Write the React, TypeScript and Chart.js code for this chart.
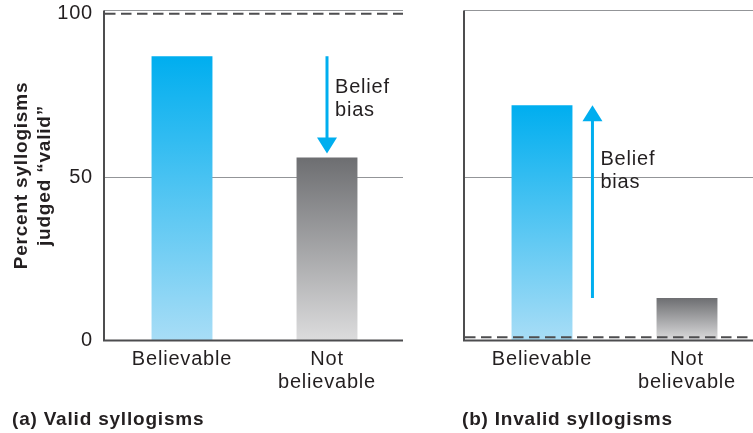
import React, { useEffect, useRef } from "react";
import { Chart, registerables } from "chart.js";

Chart.register(...registerables);

// ---------- data ----------
const CATEGORIES = [["Believable"], ["Not", "believable"]];
const VALID_VALUES = [87, 56]; // (a) valid syllogisms, % judged valid
const INVALID_VALUES = [72, 13]; // (b) invalid syllogisms, % judged valid
const Y_TICKS = [0, 50, 100];
const Y_MAX = 101;
const REFERENCE_LINE = 50;
const IDEAL_VALUES = [100, 1]; // dashed "correct answer" lines per panel
const PANEL_TITLES = ["(a) Valid syllogisms", "(b) Invalid syllogisms"];
const Y_TITLE = ["Percent syllogisms", "judged \u201cvalid\u201d"];
const ARROW_LABEL = ["Belief", "bias"];
const ARROW_LABEL_AT = [77.5, 55.5]; // value level of first label line

// ---------- styles ----------
const FONT = '"Liberation Sans", Arial, Helvetica, sans-serif';
const TEXT = "#231f20";
const AXIS = "#4d4d4f";
const LIGHT_LINE = "#939598";
const ARROW = "#00aeef";
const BLUE_TOP = "#00aeef";
const BLUE_BOTTOM = "#a8ddf6";
const GRAY_TOP = "#6d6e71";
const GRAY_BOTTOM = "#dcdcdd";

Chart.defaults.font.family = FONT;
Chart.defaults.color = TEXT;

const barFill = (ctx: any) => {
  const top = ctx.dataIndex === 0 ? BLUE_TOP : GRAY_TOP;
  const bottom = ctx.dataIndex === 0 ? BLUE_BOTTOM : GRAY_BOTTOM;
  const chart = ctx.chart;
  if (!chart.chartArea || ctx.type !== "data") return top;
  const y = chart.scales.y;
  const yTop = y.getPixelForValue(ctx.raw);
  const yBase = y.getPixelForValue(0);
  const g = chart.ctx.createLinearGradient(0, yTop, 0, yBase);
  g.addColorStop(0, top);
  g.addColorStop(1, bottom);
  return g;
};

const spacingPlugin = {
  id: "spacing",
  beforeDraw(chart: any) {
    (chart.ctx as any).letterSpacing = "0.8px";
  },
};

const decorPlugin = {
  id: "decor",
  beforeDatasetsDraw(chart: any) {
    const { ctx, chartArea: a, scales } = chart;
    const y = scales.y;
    const axisX = a.left - 5.5;
    const rightX = a.right + 3.5;
    ctx.save();
    ctx.strokeStyle = LIGHT_LINE;
    ctx.lineWidth = 1.2;
    ctx.beginPath();
    ctx.moveTo(axisX, a.top);
    ctx.lineTo(rightX, a.top);
    const y50 = Math.round(y.getPixelForValue(REFERENCE_LINE)) + 0.5;
    ctx.moveTo(axisX, y50);
    ctx.lineTo(rightX, y50);
    ctx.stroke();
    ctx.restore();
  },
  afterDatasetsDraw(chart: any, _args: any, opts: any) {
    const { ctx, chartArea: a, scales } = chart;
    const y = scales.y;
    const axisX = a.left - 5.5;
    const rightX = a.right + 3.5;
    const values: number[] = chart.data.datasets[0].data;
    const bars = chart.getDatasetMeta(0).data;
    ctx.save();
    // dashed ideal line
    ctx.strokeStyle = AXIS;
    ctx.lineWidth = 2;
    ctx.setLineDash([10.5, 5.5]);
    const yd = y.getPixelForValue(opts.ideal);
    ctx.beginPath();
    ctx.moveTo(axisX + 1, yd);
    ctx.lineTo(rightX, yd);
    ctx.stroke();
    ctx.setLineDash([]);
    // axes
    ctx.beginPath();
    ctx.moveTo(axisX, a.top);
    ctx.lineTo(axisX, a.bottom + 1);
    ctx.moveTo(axisX - 1, a.bottom);
    ctx.lineTo(rightX, a.bottom);
    ctx.stroke();

    // belief-bias arrow
    ctx.fillStyle = ARROW;
    ctx.strokeStyle = ARROW;
    ctx.lineWidth = 3;
    const headW = 10;
    const headH = 16;
    let ax: number;
    if (opts.direction === "down") {
      ax = bars[1].x;
      const yStart = y.getPixelForValue(values[0]);
      const tip = y.getPixelForValue(values[1]) - 4;
      ctx.beginPath();
      ctx.moveTo(ax, yStart);
      ctx.lineTo(ax, tip - headH + 1);
      ctx.stroke();
      ctx.beginPath();
      ctx.moveTo(ax - headW, tip - headH);
      ctx.lineTo(ax + headW, tip - headH);
      ctx.lineTo(ax, tip);
      ctx.closePath();
      ctx.fill();
    } else {
      ax = bars[0].x + bars[0].width / 2 + 20;
      const tip = y.getPixelForValue(values[0]);
      const yEnd = y.getPixelForValue(values[1]);
      ctx.beginPath();
      ctx.moveTo(ax, yEnd);
      ctx.lineTo(ax, tip + headH - 1);
      ctx.stroke();
      ctx.beginPath();
      ctx.moveTo(ax - headW, tip + headH);
      ctx.lineTo(ax + headW, tip + headH);
      ctx.lineTo(ax, tip);
      ctx.closePath();
      ctx.fill();
    }
    // label
    ctx.fillStyle = TEXT;
    ctx.font = `20px ${FONT}`;
    ctx.textAlign = "left";
    ctx.textBaseline = "middle";
    const ly = y.getPixelForValue(opts.labelAt);
    ARROW_LABEL.forEach((t, i) => ctx.fillText(t, ax + 8, ly + i * 23));
    ctx.restore();
  },
};

type PanelProps = {
  left: number;
  width: number;
  values: number[];
  title: string;
  ideal: number;
  showY: boolean;
  padLeft: number;
  padRight: number;
  yWidth: number;
  direction: "up" | "down";
  labelAt: number;
};

function Panel(p: PanelProps) {
  const ref = useRef<HTMLCanvasElement>(null);
  useEffect(() => {
    const chart = new Chart(ref.current as HTMLCanvasElement, {
      type: "bar",
      data: {
        labels: CATEGORIES as any,
        datasets: [
          {
            data: p.values,
            backgroundColor: barFill as any,
            borderWidth: 0,
            barPercentage: 0.42,
            categoryPercentage: 1,
          },
        ],
      },
      options: {
        responsive: false,
        animation: false,
        events: [],
        layout: { padding: { left: p.padLeft, right: p.padRight, top: 10.5, bottom: 1 } },
        scales: {
          x: {
            type: "category",
            grid: { display: false, drawTicks: false },
            border: { display: false },
            ticks: {
              font: { size: 20, lineHeight: 1.15 },
              color: TEXT,
              padding: 7,
              maxRotation: 0,
              autoSkip: false,
            },
            afterFit: (s: any) => {
              s.height = 67.5;
              s.paddingLeft = 0;
              s.paddingRight = 0;
            },
          },
          y: {
            min: 0,
            max: Y_MAX,
            grid: { display: false, drawTicks: false },
            border: { display: false },
            afterBuildTicks: (s: any) => {
              s.ticks = Y_TICKS.map((v) => ({ value: v }));
            },
            ticks: {
              display: p.showY,
              font: { size: 20, lineHeight: 1.15 },
              color: TEXT,
              padding: 16.5,
            },
            title: {
              display: p.showY,
              text: Y_TITLE,
              font: { size: 19, weight: "bold", lineHeight: "23px" } as any,
              color: TEXT,
              padding: { top: -2, bottom: 0 },
            },
            afterFit: (s: any) => {
              s.width = p.yWidth;
              s.paddingTop = 0;
              s.paddingBottom = 0;
            },
          } as any,
        },
        plugins: {
          legend: { display: false },
          tooltip: { enabled: false },
          title: {
            display: true,
            text: p.title,
            position: "bottom",
            align: "start",
            color: TEXT,
            font: { size: 19, weight: "bold", lineHeight: "24px" } as any,
            padding: { top: 0, bottom: 0 },
          },
          decor: { ideal: p.ideal, direction: p.direction, labelAt: p.labelAt },
        } as any,
      },
      plugins: [spacingPlugin, decorPlugin],
    });
    return () => chart.destroy();
  }, []);
  return (
    <canvas
      ref={ref}
      width={p.width}
      height={433}
      style={{ position: "absolute", left: p.left, top: 0, width: p.width, height: 433, display: "block" }}
    />
  );
}

export default function App() {
  return (
    <div
      style={{
        position: "fixed",
        left: 0,
        top: 0,
        width: 753,
        height: 433,
        overflow: "hidden",
        background: "#ffffff",
      }}
    >
      <Panel
        left={0}
        width={420}
        values={VALID_VALUES}
        title={PANEL_TITLES[0]}
        ideal={IDEAL_VALUES[0]}
        showY={true}
        padLeft={12}
        padRight={20.5}
        yWidth={97.5}
        direction="down"
        labelAt={ARROW_LABEL_AT[0]}
      />
      <Panel
        left={420}
        width={350}
        values={INVALID_VALUES}
        title={PANEL_TITLES[1]}
        ideal={IDEAL_VALUES[1]}
        showY={false}
        padLeft={42}
        padRight={10.5}
        yWidth={7.5}
        direction="up"
        labelAt={ARROW_LABEL_AT[1]}
      />
    </div>
  );
}
